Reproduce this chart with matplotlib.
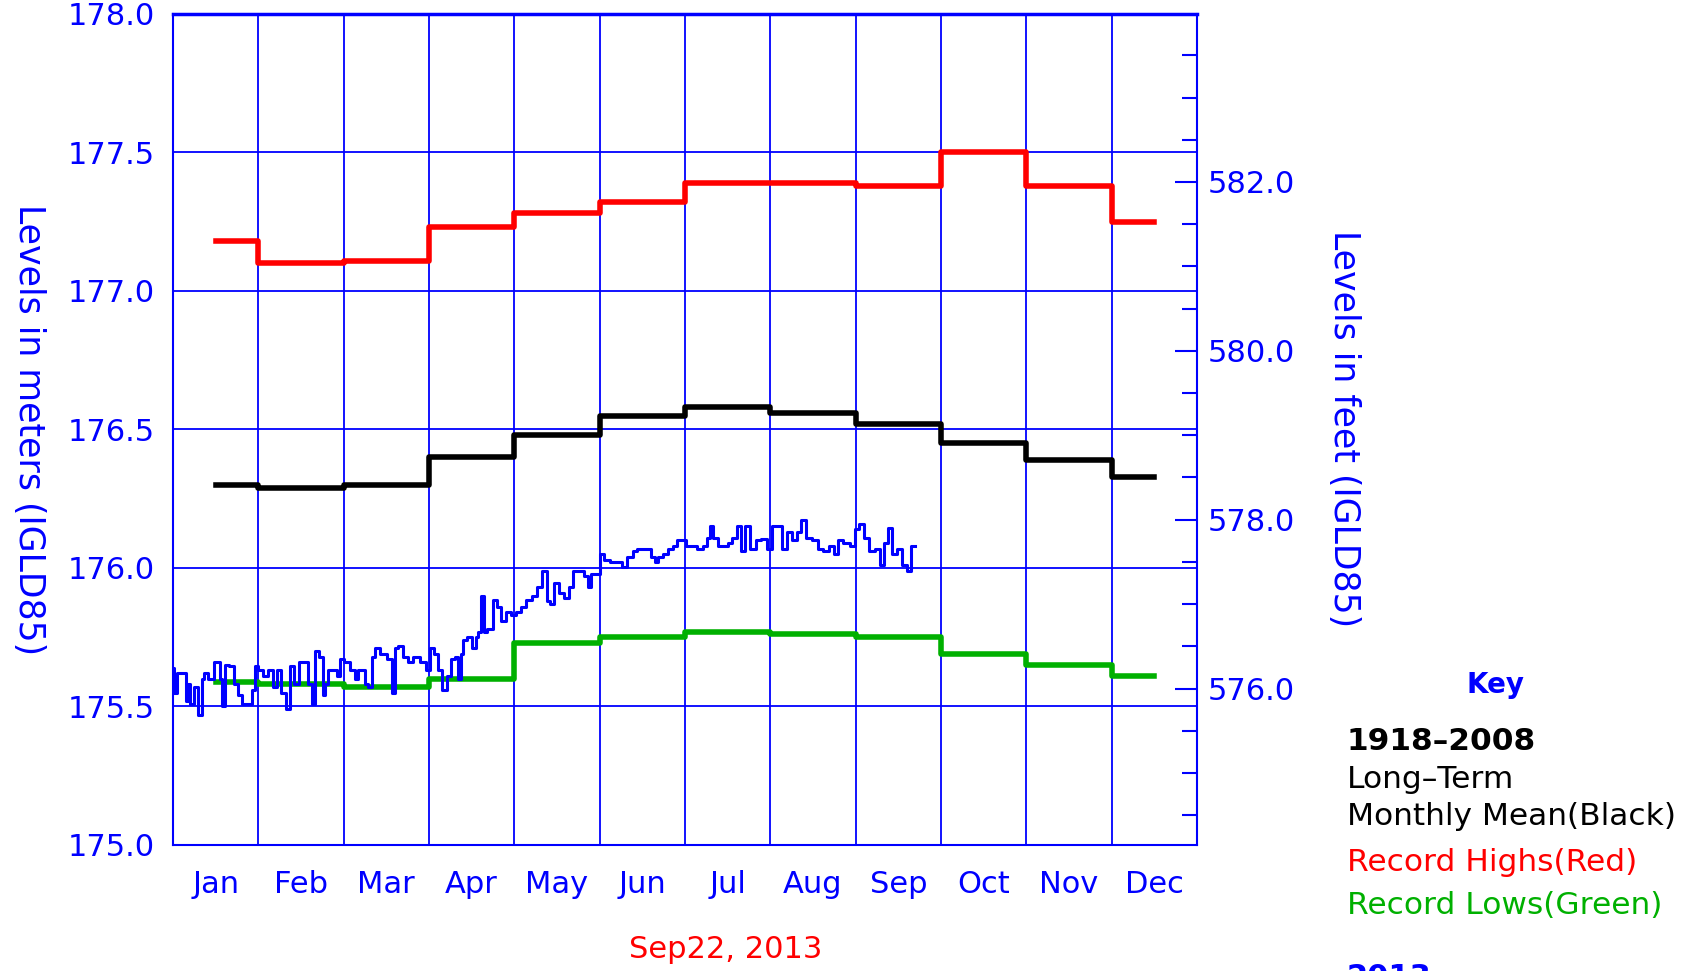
import numpy as np
import matplotlib
matplotlib.use("Agg")
import matplotlib.pyplot as plt
from matplotlib.ticker import MultipleLocator, FormatStrFormatter

plt.rcParams['font.family'] = ['DejaVu Sans']

BLUE = '#0000ff'
RED = '#ff0000'
GREEN = '#00b000'

months = ['Jan', 'Feb', 'Mar', 'Apr', 'May', 'Jun',
          'Jul', 'Aug', 'Sep', 'Oct', 'Nov', 'Dec']

# 1918-2008 monthly stats (meters, IGLD85)
record_high = [177.18, 177.10, 177.11, 177.23, 177.28, 177.32,
               177.39, 177.39, 177.38, 177.50, 177.38, 177.25]
monthly_mean = [176.30, 176.29, 176.30, 176.40, 176.48, 176.55,
                176.58, 176.56, 176.52, 176.45, 176.39, 176.33]
record_low = [175.59, 175.58, 175.57, 175.60, 175.73, 175.75,
              175.77, 175.76, 175.75, 175.69, 175.65, 175.61]

# 2013 daily levels up to Sep 22 (day of year, meters)
day_2013 = [0, 1, 2, 4, 5, 5.5, 6.7, 8.4, 9.6, 10.8, 11.4, 13.2, 16.2, 17.3, 17.9,
            19.1, 20.9, 22.7, 23.9, 25.1, 27.4, 28.6, 29.8, 31.0, 33.4, 34.6,
            36.4, 37.5, 39.3, 41.1, 42.3, 44.1, 45.9, 47.6, 48.8, 50.2, 51.2,
            53.0, 53.6, 54.8, 55.9, 57.7, 58.9, 60.1, 61.9, 64.3, 65.5, 66.6,
            67.8, 69.0, 70.2, 71.4, 72.6, 75.0, 77.3, 78.5, 79.7, 80.9, 83.3,
            84.5, 86.8, 89.2, 91.0, 92.2, 94.0, 95.2, 96.9, 98.1, 99.9, 101.1,
            102.3, 102.9, 104.1, 105.8, 107.6, 108.3, 109.4, 110.4, 111.2, 113.0,
            114.8, 116.0, 117.8, 119.5, 121.3, 123.1, 124.9, 126.7, 129.0, 130.8,
            132.6, 133.8, 135.0, 136.8, 138.5, 140.3, 142.1, 143.3, 145.7, 147.5,
            148.4, 149.8, 151.6, 152.8, 154.6, 157.0, 159.3, 161.1, 162.9, 164.7,
            165.9, 167.7, 169.4, 171.2, 172.4, 173.6, 175.4, 177.2, 178.9, 180.7,
            181.9, 183.7, 185.5, 187.9, 189.6, 190.8, 192.0, 193.2, 195.0, 196.8,
            198.5, 200.3, 201.5, 203.3, 204.5, 206.8, 208.5, 210.8, 212.4, 214.3,
            216.2, 217.8, 219.7, 221.3, 223.2, 224.6, 226.5, 228.8, 230.7, 233.0,
            234.9, 236.5, 237.7, 240.0, 242.4, 243.6, 245.2, 247.1, 248.9, 251.3,
            252.5, 254.1, 255.3, 257.1, 258.8, 260.7, 262.3, 263.5, 264.5]
level_2013 = [175.64, 175.55, 175.62, 175.62, 175.52, 175.58, 175.51, 175.57, 175.47,
              175.60, 175.62, 175.60, 175.66, 175.60, 175.50, 175.65, 175.645,
              175.58, 175.54, 175.51, 175.51, 175.56, 175.645, 175.63, 175.61,
              175.63, 175.57, 175.63, 175.55, 175.49, 175.645, 175.58, 175.66,
              175.66, 175.58, 175.51, 175.70, 175.68, 175.54, 175.58, 175.63,
              175.63, 175.61, 175.67, 175.66, 175.63, 175.60, 175.63, 175.63,
              175.58, 175.57, 175.68, 175.71, 175.69, 175.67, 175.55, 175.71,
              175.72, 175.68, 175.66, 175.68, 175.66, 175.63, 175.71, 175.69,
              175.63, 175.56, 175.61, 175.67, 175.68, 175.60, 175.69, 175.74,
              175.75, 175.71, 175.75, 175.77, 175.90, 175.77, 175.78, 175.885,
              175.86, 175.81, 175.84, 175.83, 175.84, 175.86, 175.885, 175.90,
              175.93, 175.99, 175.88, 175.87, 175.945, 175.91, 175.89, 175.93,
              175.99, 175.99, 175.97, 175.93, 175.98, 175.98, 176.05, 176.03,
              176.02, 176.02, 176.005, 176.04, 176.06, 176.07, 176.07, 176.07,
              176.04, 176.02, 176.04, 176.05, 176.07, 176.08, 176.10, 176.10,
              176.08, 176.08, 176.07, 176.08, 176.11, 176.15, 176.11, 176.08,
              176.08, 176.09, 176.11, 176.15, 176.06, 176.15, 176.07, 176.10,
              176.105, 176.07, 176.15, 176.15, 176.07, 176.13, 176.10, 176.13,
              176.175, 176.11, 176.10, 176.07, 176.06, 176.08, 176.05, 176.10,
              176.09, 176.08, 176.14, 176.16, 176.11, 176.06, 176.07, 176.01,
              176.09, 176.145, 176.05, 176.07, 176.01, 175.99, 176.08, 176.08]

W, H = 1706, 971
fig = plt.figure(figsize=(W / 100, H / 100), dpi=100)
ax = fig.add_axes([173 / W, 1 - 845 / H, (1197 - 173) / W, (845 - 14) / H])

# month boundaries / level gridlines
for i in range(1, 12):
    ax.axvline(i, color=BLUE, lw=1.3, zorder=1)
for yv in np.arange(175.5, 178.0, 0.5):
    ax.axhline(yv, color=BLUE, lw=1.3, zorder=1)

# stepped monthly stats: Jan starts mid-month, Dec ends mid-month
step_x = [0.5] + list(range(1, 12)) + [11.5]
for vals, col in [(record_high, RED), (monthly_mean, 'black'), (record_low, GREEN)]:
    ax.step(step_x, vals + [vals[-1]], where='post', color=col, lw=4, zorder=3)

x_2013 = np.array(day_2013) * 12 / 365
ax.plot(x_2013, level_2013, color=BLUE, lw=2.2, drawstyle='steps-mid', zorder=4)

ax.set_xlim(0, 12)
ax.set_ylim(175.0, 178.0)
ax.set_xticks(np.arange(12) + 0.5)
ax.set_xticklabels(months)
ax.yaxis.set_major_locator(MultipleLocator(0.5))
ax.yaxis.set_major_formatter(FormatStrFormatter('%.1f'))
ax.tick_params(axis='x', length=0, pad=18, labelsize=22, labelcolor=BLUE)
ax.tick_params(axis='y', length=0, pad=13, labelsize=22, labelcolor=BLUE)
for sp in ax.spines.values():
    sp.set_color(BLUE)
    sp.set_linewidth(1.5)
ax.spines['top'].set_linewidth(2.5)

ax2 = ax.twinx()
ax2.set_ylim(175.0 / 0.3048, 178.0 / 0.3048)
ax2.yaxis.set_major_locator(MultipleLocator(2))
ax2.yaxis.set_minor_locator(MultipleLocator(0.5))
ax2.yaxis.set_major_formatter(FormatStrFormatter('%.1f'))
ax2.tick_params(axis='y', which='major', direction='in', length=16, width=1.5,
                color=BLUE, pad=8, labelsize=22, labelcolor=BLUE)
ax2.tick_params(axis='y', which='minor', direction='in', length=11, width=1.5, color=BLUE)
for sp in ax2.spines.values():
    sp.set_visible(False)

fig.text(29 / W, 1 - 430 / H, 'Levels in meters (IGLD85)', rotation=270,
         color=BLUE, fontsize=25, ha='center', va='center')
fig.text(1344 / W, 1 - 429 / H, 'Levels in feet (IGLD85)', rotation=270,
         color=BLUE, fontsize=25, ha='center', va='center')
fig.text(726 / W, 1 - 949 / H, 'Sep22, 2013', color=RED, fontsize=22,
         ha='center', va='center')

# key
fig.text(1496 / W, 1 - 685 / H, 'Key', color=BLUE, fontsize=20,
         fontweight='bold', ha='center', va='center')
key_lines = [('1918\u20132008', 'black', 'bold', 741),
             ('Long\u2013Term', 'black', 'normal', 779),
             ('Monthly Mean(Black)', 'black', 'normal', 816),
             ('Record Highs(Red)', RED, 'normal', 862),
             ('Record Lows(Green)', GREEN, 'normal', 905)]
for txt, col, wt, ypx in key_lines:
    fig.text(1347 / W, 1 - ypx / H, txt, color=col, fontsize=22.5,
             fontweight=wt, ha='left', va='center')
fig.text(1347 / W, 1 - 963 / H, '2013', color=BLUE, fontsize=22,
         fontweight='bold', ha='left', va='top')

fig.savefig('out.png', dpi=100)
